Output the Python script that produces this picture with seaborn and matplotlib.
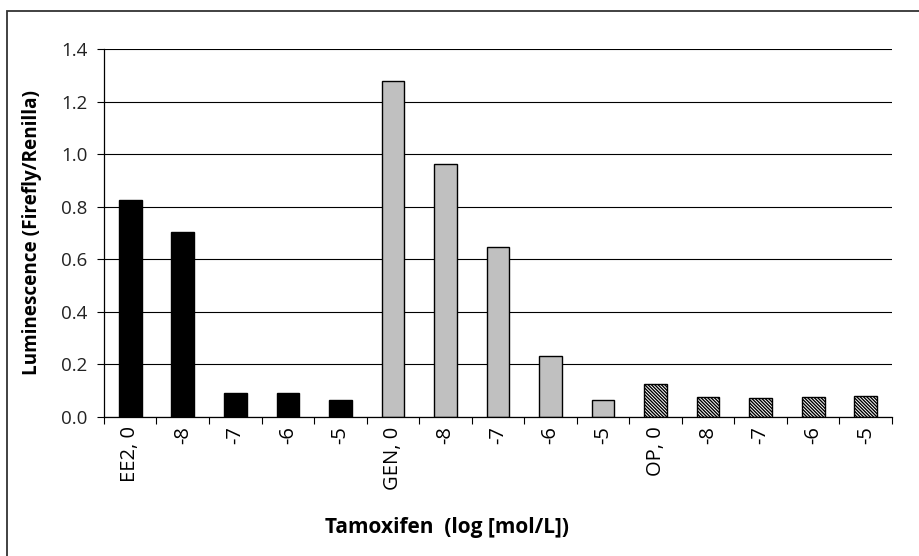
import matplotlib
matplotlib.use("Agg")
import matplotlib.pyplot as plt
from matplotlib.patches import Rectangle
from matplotlib.ticker import FixedLocator, FormatStrFormatter
import seaborn as sns
import pandas as pd

# Luciferase reporter readout for each compound across tamoxifen doses
compounds = ["EE2"] * 5 + ["GEN"] * 5 + ["OP"] * 5
tick_labels = ["EE2, 0", "-8", "-7", "-6", "-5",
               "GEN, 0", "-8", "-7", "-6", "-5",
               "OP, 0", "-8", "-7", "-6", "-5"]
luminescence = [0.825, 0.703, 0.091, 0.091, 0.062,
                1.277, 0.962, 0.646, 0.232, 0.063,
                0.126, 0.075, 0.070, 0.075, 0.080]

fill_colors = {"EE2": "#000000", "GEN": "#C0C0C0", "OP": "#FFFFFF"}

df = pd.DataFrame({
    "slot": [f"c{i}" for i in range(len(luminescence))],
    "compound": compounds,
    "value": luminescence,
})

sns.set_theme(style="white")
plt.rcParams["font.family"] = ["Open Sans", "DejaVu Sans"]
plt.rcParams["hatch.linewidth"] = 1.0

fig = plt.figure(figsize=(9.2, 5.56), dpi=100)
ax = fig.add_axes([0.113, 0.2505, 0.8566, 0.6614])

sns.barplot(data=df, x="slot", y="value", hue="compound", palette=fill_colors,
            dodge=False, width=0.43, edgecolor="black", linewidth=1.0,
            legend=False, ax=ax)

# dense diagonal fill for the OP series
for patch, comp in zip(ax.patches, compounds):
    if comp == "OP":
        patch.set_hatch("\\" * 10)

ax.set_ylim(0, 1.4)
ax.set_xlim(-0.5, len(luminescence) - 0.5)
ax.yaxis.set_major_locator(FixedLocator([0, 0.2, 0.4, 0.6, 0.8, 1.0, 1.2, 1.4]))
ax.yaxis.set_major_formatter(FormatStrFormatter("%.1f"))
ax.grid(axis="y", color="black", linewidth=0.8)
ax.set_axisbelow(True)

# ticks sit between categories, labels sit under each bar
n = len(luminescence)
ax.set_xticks([i - 0.5 for i in range(n + 1)])
ax.set_xticklabels([""] * (n + 1))
ax.set_xticks(list(range(n)), minor=True)
ax.set_xticklabels(tick_labels, minor=True, rotation=90, va="top", ha="center")
ax.tick_params(axis="x", which="major", direction="out", length=5,
               width=0.8, color="black", bottom=True)
ax.tick_params(axis="x", which="minor", length=0, pad=7, labelsize=14.5,
               labelcolor="black")
ax.tick_params(axis="y", direction="out", length=5, width=0.8, color="black",
               left=True, pad=7, labelsize=13.5, labelcolor="#222222")

for side in ("top", "right"):
    ax.spines[side].set_visible(False)
for side in ("left", "bottom"):
    ax.spines[side].set_color("black")
    ax.spines[side].set_linewidth(0.9)

ax.set_xlabel("Tamoxifen  (log [mol/L])", fontsize=15, fontweight="bold",
              color="black", labelpad=0)
ax.xaxis.set_label_coords(0.435, -0.272)
ax.set_ylabel("Luminescence (Firefly/Renilla)", fontsize=13.6, fontweight="bold",
              color="black")
ax.yaxis.set_label_coords(-0.079, 0.5)

# chart frame, running off the right and bottom edges
fig.patches.append(Rectangle((7 / 920, -0.1), 1.2, 1.1 - 11 / 556,
                             transform=fig.transFigure, fill=False,
                             edgecolor="#333333", linewidth=1.3))

fig.savefig("out.png", dpi=100, facecolor="white")
